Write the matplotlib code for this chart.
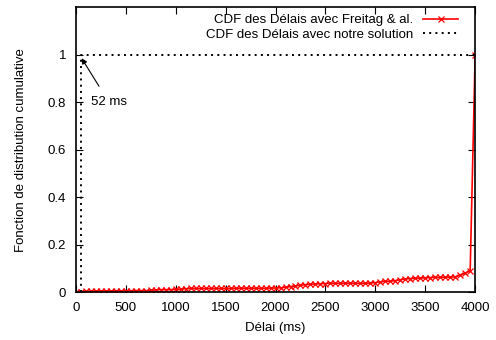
import matplotlib
matplotlib.use('Agg')
import matplotlib.pyplot as plt
import numpy as np

plt.rcParams['font.family'] = ['Liberation Sans', 'DejaVu Sans']
plt.rcParams['font.size'] = 9.5

# CDF des delais avec Freitag & al. (un point tous les 50 ms)
delai_freitag = list(range(0, 4000, 50)) + [4000]
cdf_freitag = [0.000, 0.002, 0.003, 0.004, 0.005, 0.005, 0.005, 0.005, 0.005, 0.005,
               0.005, 0.005, 0.006, 0.006, 0.006, 0.007, 0.009, 0.010, 0.010, 0.010,
               0.011, 0.012, 0.014, 0.015, 0.015, 0.015, 0.015, 0.015, 0.015, 0.015,
               0.015, 0.015, 0.016, 0.016, 0.016, 0.016, 0.016, 0.016, 0.016, 0.017,
               0.017, 0.018, 0.020, 0.023, 0.026, 0.029, 0.031, 0.033, 0.034, 0.035,
               0.036, 0.037, 0.037, 0.037, 0.037, 0.037, 0.037, 0.037, 0.037, 0.038,
               0.040, 0.043, 0.045, 0.046, 0.048, 0.052, 0.055, 0.057, 0.058, 0.059,
               0.060, 0.061, 0.062, 0.062, 0.063, 0.063, 0.064, 0.072, 0.080, 0.090,
               1.000]

# CDF des delais avec notre solution
delai_notre = [52, 52, 4000]
cdf_notre = [0.0, 1.0, 1.0]

fig = plt.figure(figsize=(4.96, 3.4), dpi=100)
ax = fig.add_axes([0.153, 0.141, 0.805, 0.838])

ax.plot(delai_freitag, cdf_freitag, color='red', lw=1.2, marker='x', ms=4.5, mew=0.9,
        label='CDF des Délais avec Freitag & al.')
ax.plot(delai_notre, cdf_notre, color='black', lw=1.4, ls=(0, (1, 2.2)),
        label='CDF des Délais avec notre solution')

ax.annotate('52 ms', xy=(57, 0.985), xytext=(150, 0.80), va='center', ha='left',
            arrowprops=dict(arrowstyle='-|>', color='black', lw=0.8,
                            shrinkA=6, shrinkB=0, mutation_scale=8))

ax.set_xlim(0, 4000)
ax.set_ylim(0, 1.2)
ax.set_xticks(np.arange(0, 4001, 500))
ax.set_yticks([0, 0.2, 0.4, 0.6, 0.8, 1])
ax.set_yticklabels(['0', '0.2', '0.4', '0.6', '0.8', '1'])
ax.tick_params(direction='in', top=True, right=True, length=5, width=0.8, pad=7)
for s in ax.spines.values():
    s.set_linewidth(1.2)

ax.set_xlabel('Délai (ms)', labelpad=6)
ax.set_ylabel('Fonction de distribution cumulative', labelpad=15)

ax.legend(loc='upper right', bbox_to_anchor=(0.958, 0.975), frameon=False,
          markerfirst=False, handlelength=2.7, borderpad=0, borderaxespad=0,
          labelspacing=0.15, handletextpad=0.75)

fig.savefig('out.png', dpi=100)
